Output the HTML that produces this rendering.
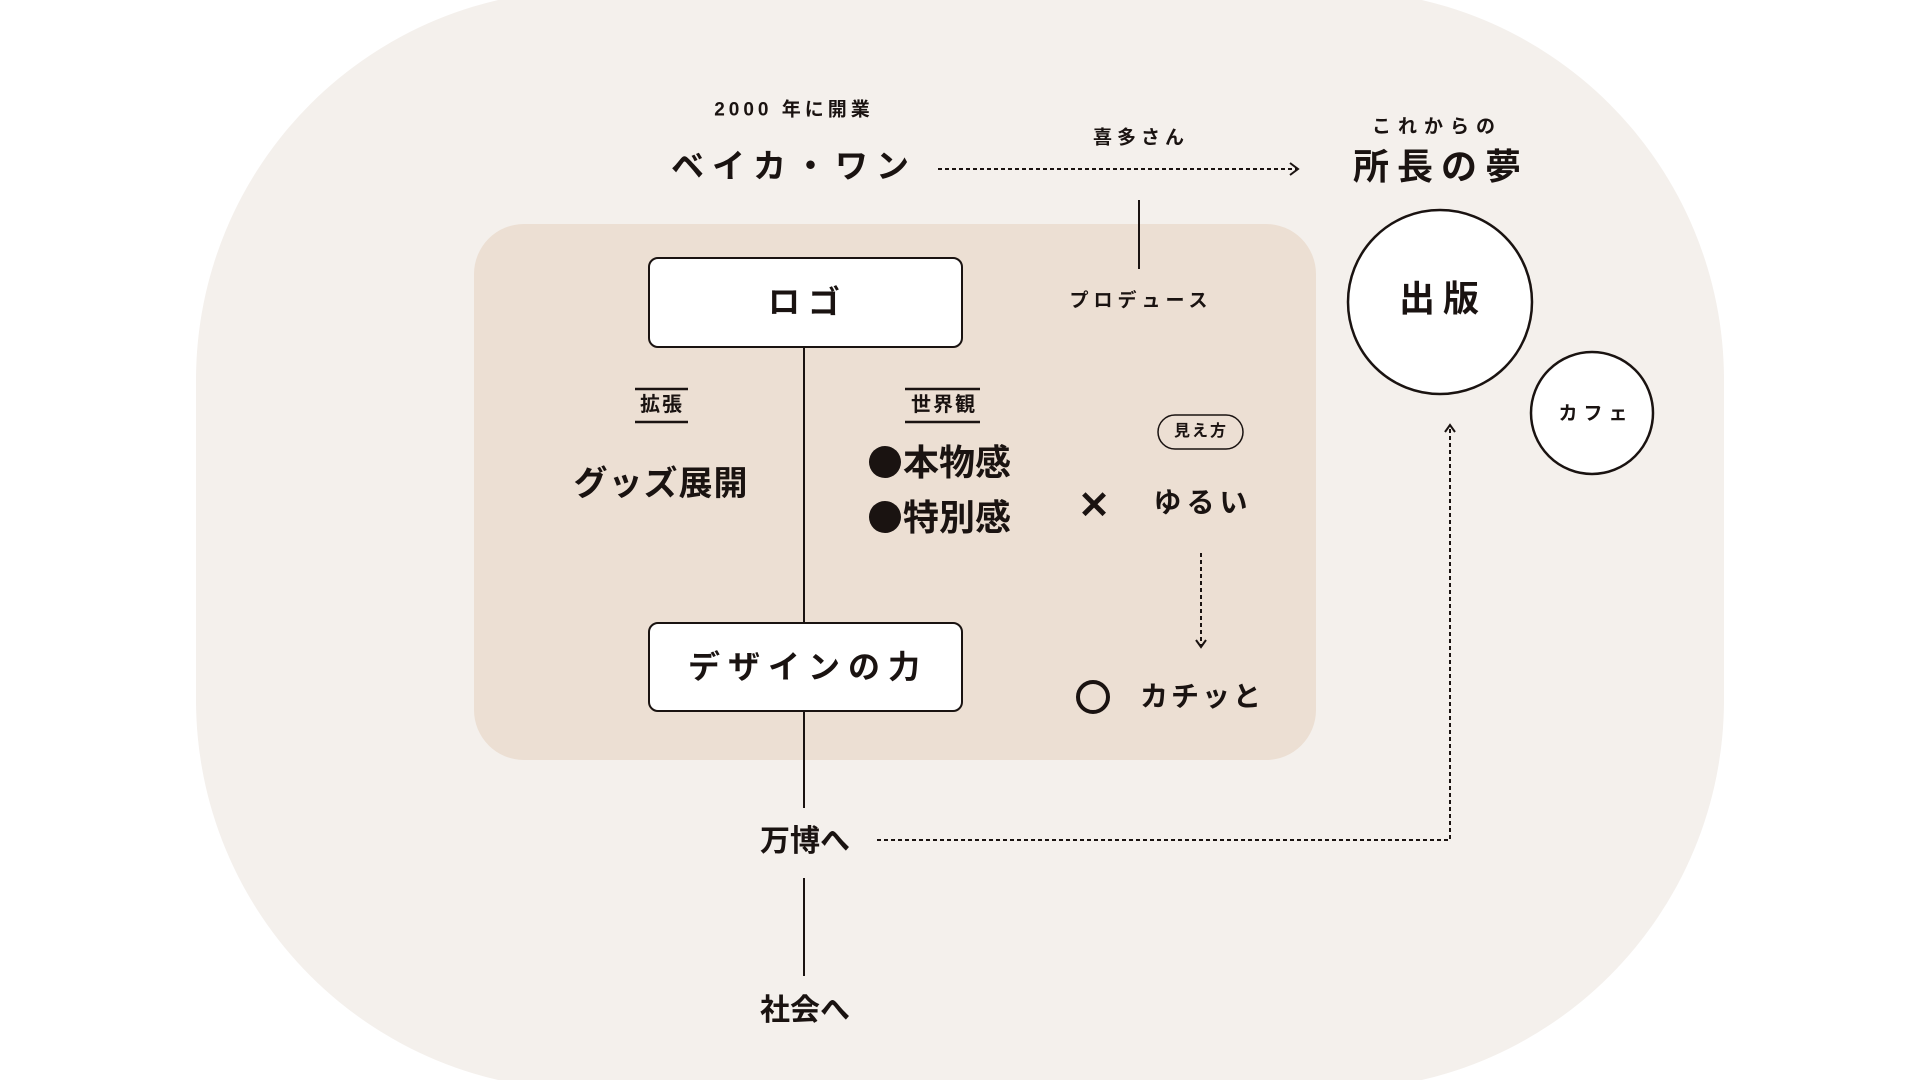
<!DOCTYPE html>
<html><head><meta charset="utf-8"><style>
body{margin:0;width:1920px;height:1080px;background:#fff;position:relative;overflow:hidden;font-family:"Liberation Sans","Noto Sans CJK JP",sans-serif;color:#1a1311}
.t{position:absolute;transform:translate(-50%,-50%);white-space:nowrap;font-weight:bold;line-height:1}
.b{display:inline-block;width:32px;height:32px;border-radius:50%;background:#1a1311;vertical-align:-3px;margin-right:2px}
svg{position:absolute;left:0;top:0}
</style></head><body>
<svg width="1920" height="1080">
<rect x="196" y="-10" width="1528" height="1100" rx="390" ry="390" fill="#f4f0ec"/>
<rect x="474" y="224" width="842" height="536" rx="50" fill="#ecdfd3"/>
<g stroke="#1a1311" fill="none" stroke-width="2">
<rect x="649" y="258" width="313" height="89" rx="9" fill="#fff"/>
<rect x="649" y="623" width="313" height="88" rx="9" fill="#fff"/>
<line x1="804" y1="347" x2="804" y2="623"/>
<line x1="804" y1="711" x2="804" y2="808"/>
<line x1="804" y1="878" x2="804" y2="976"/>
<line x1="1139" y1="200" x2="1139" y2="269"/>
<line x1="938" y1="169" x2="1298" y2="169" stroke-dasharray="4 3"/>
<polyline points="1290,163 1298,169 1290,175"/>
<line x1="1201" y1="553" x2="1201" y2="647" stroke-dasharray="4 3"/>
<polyline points="1196,640 1201,647 1206,640"/>
<polyline points="877,840 1450,840 1450,426" stroke-dasharray="4 3"/>
<polyline points="1445,432 1450,425 1455,432"/>
<circle cx="1440" cy="302" r="92" fill="#fff" stroke-width="2.5"/>
<circle cx="1592" cy="413" r="61" fill="#fff" stroke-width="2.5"/>
<rect x="1158" y="415" width="85" height="34" rx="17" stroke-width="1.5"/>
<circle cx="1093" cy="697" r="15" stroke-width="4"/>
<line x1="635" y1="389" x2="688" y2="389" stroke-width="2.5"/>
<line x1="635" y1="422" x2="688" y2="422" stroke-width="2.5"/>
<line x1="905" y1="389" x2="980" y2="389" stroke-width="2.5"/>
<line x1="905" y1="422" x2="980" y2="422" stroke-width="2.5"/>
</g>
</svg>
<div class="t" style="left:794px;top:110px;font-size:19px;letter-spacing:4px">2000 年に開業</div>
<div class="t" style="left:794px;top:166px;font-size:33px;letter-spacing:8px">ベイカ・ワン</div>
<div class="t" style="left:1141px;top:138px;font-size:19px;letter-spacing:5px">喜多さん</div>
<div class="t" style="left:1141px;top:301px;font-size:19px;letter-spacing:5px">プロデュース</div>
<div class="t" style="left:1437px;top:127px;font-size:19px;letter-spacing:7px">これからの</div>
<div class="t" style="left:1441px;top:167px;font-size:36px;letter-spacing:8px">所長の夢</div>
<div class="t" style="left:1443px;top:299px;font-size:36px;letter-spacing:8px">出版</div>
<div class="t" style="left:1596px;top:414px;font-size:19px;letter-spacing:6px">カフェ</div>
<div class="t" style="left:808px;top:302px;font-size:32px;letter-spacing:8px">ロゴ</div>
<div class="t" style="left:808px;top:667px;font-size:32px;letter-spacing:8px">デザインの力</div>
<div class="t" style="left:662px;top:405px;font-size:20px;letter-spacing:2px">拡張</div>
<div class="t" style="left:944px;top:405px;font-size:20px;letter-spacing:2px">世界観</div>
<div class="t" style="left:661px;top:484px;font-size:34px;letter-spacing:1px">グッズ展開</div>
<div class="t" style="left:940px;top:463px;font-size:36px"><span class="b"></span>本物感</div>
<div class="t" style="left:940px;top:518px;font-size:36px"><span class="b"></span>特別感</div>
<div class="t" style="left:1094px;top:506px;font-size:38px">✕</div>
<div class="t" style="left:1203px;top:503px;font-size:28px;letter-spacing:5px">ゆるい</div>
<div class="t" style="left:1201px;top:432px;font-size:16px;letter-spacing:2px">見え方</div>
<div class="t" style="left:1202px;top:697px;font-size:28px;letter-spacing:3px">カチッと</div>
<div class="t" style="left:805px;top:842px;font-size:30px">万博へ</div>
<div class="t" style="left:805px;top:1011px;font-size:30px">社会へ</div>
</body></html>
